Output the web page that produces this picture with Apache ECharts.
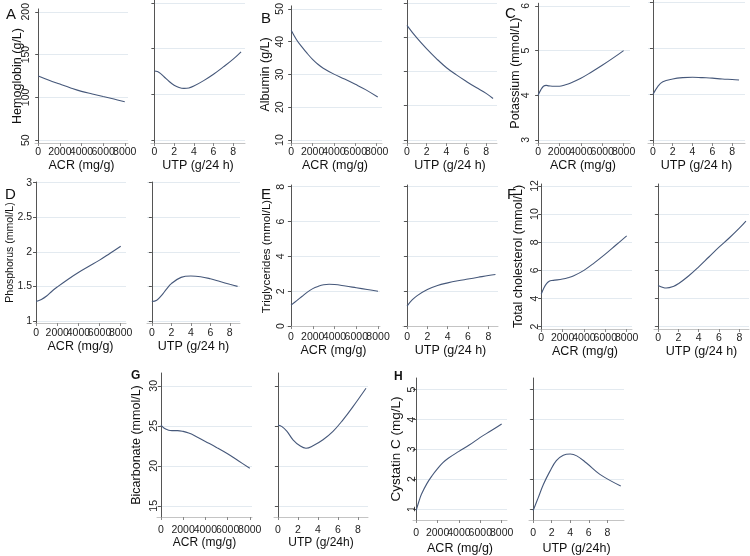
<!DOCTYPE html>
<html><head><meta charset="utf-8">
<script src="https://cdn.jsdelivr.net/npm/echarts@6/dist/echarts.min.js"></script>
<style>html,body{margin:0;padding:0;background:#fff}#c{width:750px;height:556px}</style>
</head><body><div id="c"></div>
<script>
// ---------- tick labels ----------
const acrTicks = [0, 2000, 4000, 6000, 8000];
const utpTicks = [0, 2, 4, 6, 8];
const hbTicks = [50, 100, 150, 200];
const albTicks = [10, 20, 30, 40, 50];
const kTicks = [3, 4, 5, 6];
const pTicks = [1, 1.5, 2, 2.5, 3];
const tgTicks = [0, 2, 4, 6, 8];
const tcTicks = [2, 4, 6, 8, 10, 12];
const bicTicks = [15, 20, 25, 30];
const cysTicks = [1, 2, 3, 4, 5];

// ---------- series values ----------
const hbAcrX = [0, 1000, 2000, 3000, 4000, 5000, 6000, 7000, 8000];
const hbAcrY = [125, 120, 115.5, 111, 107, 104, 101, 98, 94.8];
const hbUtpX = [0, 0.3, 0.6, 1, 1.5, 2, 2.5, 3, 3.5, 4, 5, 6, 7, 8, 8.8];
const hbUtpY = [125.5, 125, 123, 119, 114, 110, 107.5, 106.5, 107, 109, 115, 122, 130, 138.5, 146.5];

const albAcrX = [0, 500, 1000, 1500, 2000, 2500, 3000, 4000, 5000, 6000, 7000, 8100];
const albAcrY = [43.5, 40.6, 38.4, 36.4, 34.6, 33.1, 31.9, 30.1, 28.6, 27, 25.3, 23.1];
const albUtpX = [0, 1, 2, 3, 4, 5, 6, 7, 8, 8.7];
const albUtpY = [43.5, 39.8, 36.6, 33.7, 31.1, 29.0, 27.1, 25.3, 23.6, 22.1];

const kAcrX = [0, 250, 500, 750, 1000, 1500, 2000, 2500, 3000, 4000, 5000, 6000, 7000, 8000];
const kAcrY = [4.0, 4.12, 4.2, 4.22, 4.21, 4.2, 4.2, 4.23, 4.27, 4.38, 4.52, 4.67, 4.83, 5.0];
const kUtpX = [0, 0.5, 1, 2, 3, 4, 5, 6, 7, 8, 8.7];
const kUtpY = [3.99, 4.17, 4.27, 4.33, 4.36, 4.37, 4.36, 4.35, 4.33, 4.32, 4.31];

const pAcrX = [0, 500, 1000, 1500, 2000, 3000, 4000, 5000, 6000, 7000, 8000];
const pAcrY = [1.28, 1.31, 1.36, 1.43, 1.49, 1.6, 1.7, 1.79, 1.88, 1.98, 2.08];
const pUtpX = [0, 0.5, 1, 1.5, 2, 3, 4, 5, 6, 7, 8, 8.8];
const pUtpY = [1.28, 1.3, 1.37, 1.46, 1.54, 1.63, 1.65, 1.64, 1.61, 1.57, 1.53, 1.5];

const tgAcrX = [0, 500, 1000, 1500, 2000, 2500, 3000, 3500, 4000, 5000, 6000, 7000, 8000];
const tgAcrY = [1.2, 1.45, 1.7, 1.95, 2.15, 2.28, 2.37, 2.4, 2.39, 2.3, 2.2, 2.1, 2.0];
const tgUtpX = [0, 0.5, 1, 2, 3, 4, 5, 6, 7, 8, 8.7];
const tgUtpY = [1.15, 1.5, 1.75, 2.1, 2.33, 2.48, 2.6, 2.7, 2.8, 2.9, 2.96];

const tcAcrX = [0, 250, 500, 750, 1000, 1500, 2000, 2500, 3000, 4000, 5000, 6000, 7000, 8000];
const tcAcrY = [4.3, 4.75, 5.05, 5.22, 5.28, 5.32, 5.38, 5.47, 5.6, 6.0, 6.55, 7.15, 7.8, 8.45];
const tcUtpX = [0, 0.5, 0.8, 1.5, 2, 3, 4, 5, 6, 7, 8, 8.65];
const tcUtpY = [4.93, 4.78, 4.74, 4.85, 5.05, 5.6, 6.25, 6.95, 7.65, 8.3, 9.0, 9.5];

const bicAcrX = [0, 300, 700, 1000, 1500, 2000, 2500, 3000, 4000, 5000, 6000, 7000, 8000];
const bicAcrY = [25.1, 24.7, 24.45, 24.4, 24.4, 24.3, 24.1, 23.8, 23.05, 22.3, 21.5, 20.6, 19.7];
const bicUtpX = [0, 0.4, 0.9, 1.5, 2.2, 2.8, 3.5, 4.5, 5.5, 6.5, 7.5, 8.8];
const bicUtpY = [25.1, 24.9, 24.3, 23.25, 22.5, 22.2, 22.5, 23.25, 24.3, 25.75, 27.4, 29.7];

const cysAcrX = [0, 250, 500, 1000, 1500, 2000, 2500, 3000, 4000, 5000, 6000, 7000, 8000];
const cysAcrY = [0.95, 1.25, 1.5, 1.85, 2.12, 2.35, 2.55, 2.7, 2.93, 3.15, 3.4, 3.62, 3.85];
const cysUtpX = [0, 0.55, 1.1, 1.8, 2.5, 3.25, 4, 4.7, 5.75, 7.2, 9.45];
const cysUtpY = [0.95, 1.38, 1.82, 2.26, 2.62, 2.8, 2.84, 2.78, 2.54, 2.16, 1.77];

// ---------- texts ----------
const letters = ['A', 'B', 'C', 'D', 'E', 'F', 'G', 'H'];
const yTitles = ['Hemoglobin (g/L)', 'Albumin (g/L)', 'Potassium (mmol/L)', 'Phosphorus (mmol/L)',
  'Triglycerides (mmol/L)', 'Total cholesterol (mmol/L)', 'Bicarbonate (mmol/L)', 'Cystatin C (mg/L)'];
const acrName = 'ACR (mg/g)';
const utpNames = ['UTP (g/24 h)', 'UTP (g/24 h)', 'UTP (g/24 h)', 'UTP (g/24 h)', 'UTP (g/24 h)', 'UTP (g/24 h)', 'UTP (g/24h)', 'UTP (g/24h)'];

// ---------- layout (pixels / styles) ----------
const FONT = 'Liberation Sans, Arial, sans-serif';
const LINE = '#46587a';
const panels = [
  {ticks: hbTicks, ax: [hbAcrX, hbAcrY], ut: [hbUtpX, hbUtpY], yMin: 46.7, yMax: 203.3,
   L: [35, 0, 128, 143], R: [151, 0, 245, 143], xl: [-300, 8300], xr: [-0.35, 9.2],
   ng: 11, nf: 12.5, rot: 90, lm: 3, xm: 4, xg: 14, xf: 12.5, let: [1, 2, 15, 'normal']},
  {ticks: albTicks, ax: [albAcrX, albAcrY], ut: [albUtpX, albUtpY], yMin: 9.1, yMax: 50.9,
   L: [288, 0, 382, 143], R: [403, 0, 497, 143], xl: [-300, 8500], xr: [-0.4, 9.1],
   ng: 16, nf: 12.5, rot: 90, lm: 2, xm: 4, xg: 14, xf: 12.5, let: [256, 6, 15, 'normal']},
  {ticks: kTicks, ax: [kAcrX, kAcrY], ut: [kUtpX, kUtpY], yMin: 2.93, yMax: 6.06,
   L: [536, 0, 630, 143], R: [648, 0, 745, 143], xl: [-200, 8600], xr: [-0.5, 9.3],
   ng: 14, nf: 12.5, rot: 90, lm: 4, xm: 4, xg: 14, xf: 12.5, let: [500, 1, 15, 'normal']},
  {ticks: pTicks, ax: [pAcrX, pAcrY], ut: [pUtpX, pUtpY], yMin: 0.97, yMax: 3.01,
   L: [35, 182, 126, 323], R: [147, 182, 240, 323], xl: [-100, 8500], xr: [-0.5, 9.05],
   ng: 19, nf: 10.5, rot: 0, lm: 3, xm: 5, xg: 17, xf: 12.5, let: [0, 182, 15, 'normal']},
  {ticks: tgTicks, ax: [tgAcrX, tgAcrY], ut: [tgUtpX, tgUtpY], yMin: -0.11, yMax: 8.1,
   L: [287, 185, 380, 328], R: [403, 185, 498, 328], xl: [-370, 8180], xr: [-0.4, 8.95],
   ng: 14, nf: 11.5, rot: 90, lm: 0, xm: 4, xg: 16, xf: 12.5, let: [256, 182, 15, 'normal']},
  {ticks: tcTicks, ax: [tcAcrX, tcAcrY], ut: [tcUtpX, tcUtpY], yMin: 1.83, yMax: 12.14,
   L: [538, 184, 632, 329], R: [654, 184, 749, 329], xl: [-300, 8500], xr: [-0.4, 8.95],
   ng: 13, nf: 12.5, rot: 90, lm: -3, xm: 4, xg: 16, xf: 12.5, let: [502, 182, 15, 'normal']},
  {ticks: bicTicks, ax: [bicAcrX, bicAcrY], ut: [bicUtpX, bicUtpY], yMin: 13.6, yMax: 31.6,
   L: [157, 373, 252, 517], R: [274, 373, 368, 517], xl: [-350, 8200], xr: [-0.4, 9.0],
   ng: 14, nf: 12.5, rot: 90, lm: -3, xm: 8, xg: 20, xf: 12, let: [126, 365, 12, 'bold']},
  {ticks: cysTicks, ax: [cysAcrX, cysAcrY], ut: [cysUtpX, cysUtpY], yMin: 0.63, yMax: 5.39,
   L: [413, 378, 507, 523], R: [529, 378, 624, 523], xl: [-300, 8500], xr: [-0.45, 9.8],
   ng: 10, nf: 13.5, rot: 90, lm: -5, xm: 8, xg: 22, xf: 12.5, let: [389, 366, 12, 'bold']}
];

const plain = v => String(v);
const grid = [], xAxis = [], yAxis = [], series = [], title = [];
panels.forEach((p, i) => {
  title.push({text: letters[i], left: p.let[0], top: p.let[1],
    textStyle: {fontSize: p.let[2], fontWeight: p.let[3], color: '#111', fontFamily: FONT}});
  [['L', p.ax, acrTicks, p.xl, acrName], ['R', p.ut, utpTicks, p.xr, utpNames[i]]].forEach((s, k) => {
    const box = p[s[0]];
    const gi = grid.length;
    grid.push({left: box[0], top: box[1], width: box[2] - box[0], height: box[3] - box[1]});
    const evenT = s[2].filter((v, j) => j % 2 === 0);
    const oddT = s[2].filter((v, j) => j % 2 === 1);
    const xi = xAxis.length;
    const lbl = (vals) => ({customValues: vals, margin: p.xm, fontSize: 10.5, color: '#222', fontFamily: FONT,
      formatter: plain, hideOverlap: false, showMinLabel: true, showMaxLabel: true});
    // main x axis: line, all ticks, labels at even ticks, name
    xAxis.push({type: 'value', gridIndex: gi, position: 'bottom', min: s[3][0], max: s[3][1],
      axisLine: {show: true, lineStyle: {color: '#c4c4c4', width: 1}},
      axisTick: {show: true, length: 3, customValues: s[2], lineStyle: {color: '#888'}},
      axisLabel: lbl(evenT),
      splitLine: {show: false},
      name: s[4], nameLocation: 'middle', nameGap: p.xg,
      nameTextStyle: {fontSize: p.xf, color: '#111', fontFamily: FONT}});
    // companion x axis on the same scale carrying the odd tick labels
    xAxis.push({type: 'value', gridIndex: gi, position: 'bottom', offset: 0, min: s[3][0], max: s[3][1],
      axisLine: {show: false}, axisTick: {show: false}, splitLine: {show: false},
      axisLabel: lbl(oddT)});
    const show = k === 0;
    yAxis.push({type: 'value', gridIndex: gi, min: p.yMin, max: p.yMax,
      axisLine: {show: true, lineStyle: {color: '#555', width: 1}},
      axisTick: {show: true, length: 3, customValues: p.ticks, lineStyle: {color: '#555'}},
      axisLabel: {show: show, customValues: p.ticks, rotate: p.rot, margin: p.lm, formatter: plain,
        fontSize: 10.5, color: '#222', fontFamily: FONT, hideOverlap: false},
      splitLine: {show: true, lineStyle: {color: '#e3eaf0', width: 1}},
      name: show ? yTitles[i] : '', nameLocation: 'middle', nameGap: p.ng, nameMoveOverlap: false,
      nameTextStyle: {fontSize: p.nf, color: '#111', fontFamily: FONT}});
    series.push({type: 'line', xAxisIndex: xi, yAxisIndex: gi, showSymbol: false, smooth: 0.4,
      lineStyle: {color: LINE, width: 1.1}, silent: true,
      data: s[1][0].map((x, j) => [x, s[1][1][j]])});
  });
});

const chart = echarts.init(document.getElementById('c'), null, {renderer: 'canvas'});
chart.setOption({backgroundColor: '#fff', animation: false, title, grid, xAxis, yAxis, series});
</script></body></html>
